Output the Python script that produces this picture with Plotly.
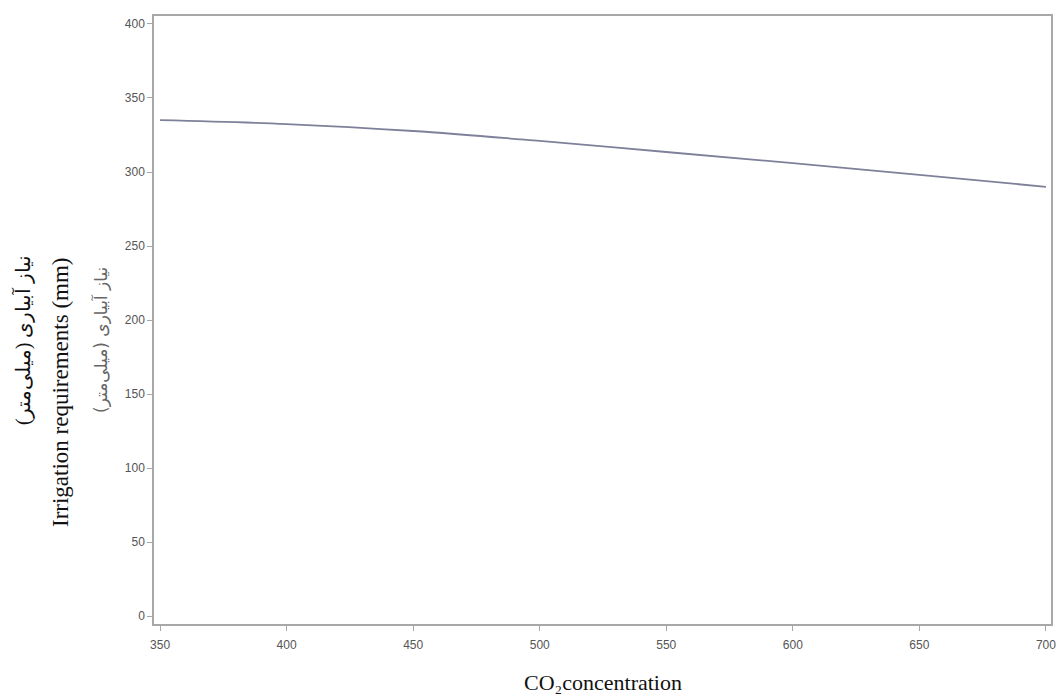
import plotly.graph_objects as go

co2 = [350, 400, 450, 500, 550, 600, 650, 700]
irrigation = [335.0, 332.4, 327.7, 321.0, 313.5, 306.0, 298.0, 290.0]
x_ticks = [350, 400, 450, 500, 550, 600, 650, 700]
y_ticks = [0, 50, 100, 150, 200, 250, 300, 350, 400]

fig = go.Figure()
fig.add_trace(go.Scatter(x=co2, y=irrigation, mode="lines", line=dict(color="#7e8199", width=1.8, shape="spline"), showlegend=False))

axis_common = dict(showline=True, linecolor="#a8a8a8", linewidth=1.5, mirror=True, showgrid=False, zeroline=False,
                   ticks="outside", ticklen=5, tickcolor="#a8a8a8", tickwidth=1,
                   tickfont=dict(family="Liberation Sans, Arial", size=12, color="#555555"))

fig.update_layout(
    width=1064, height=698,
    margin=dict(l=154, r=8, t=16, b=74),
    paper_bgcolor="white", plot_bgcolor="white",
    xaxis=dict(range=[347.6, 702], tickvals=x_ticks, ticklabelstandoff=4, **axis_common),
    yaxis=dict(range=[-5.4, 405.4], tickvals=y_ticks, **axis_common),
)

serif = "Liberation Serif, Times New Roman, serif"
fig.add_annotation(text="نیاز آبیاری (میلی‌متر)", xref="paper", yref="paper", x=0, y=0.5,
                   xshift=23 - 154, yshift=-20, textangle=-90, showarrow=False,
                   font=dict(family=serif, size=20, color="#111111"), xanchor="center", yanchor="middle")
fig.add_annotation(text="Irrigation requirements (mm)", xref="paper", yref="paper", x=0, y=0.5,
                   xshift=60 - 154, yshift=-72, textangle=-90, showarrow=False,
                   font=dict(family=serif, size=23, color="#111111"), xanchor="center", yanchor="middle")
fig.add_annotation(text="نیاز آبیاری (میلی‌متر)", xref="paper", yref="paper", x=0, y=0.5,
                   xshift=100 - 154, yshift=-20, textangle=-90, showarrow=False,
                   font=dict(family="DejaVu Sans, sans-serif", size=17, color="#666666"), xanchor="center", yanchor="middle")
fig.add_annotation(text="CO₂concentration", xref="paper", yref="paper", x=0.5, y=0,
                   yshift=-58, showarrow=False,
                   font=dict(family=serif, size=22, color="#111111"), xanchor="center", yanchor="middle")

fig.write_html("out.html")
